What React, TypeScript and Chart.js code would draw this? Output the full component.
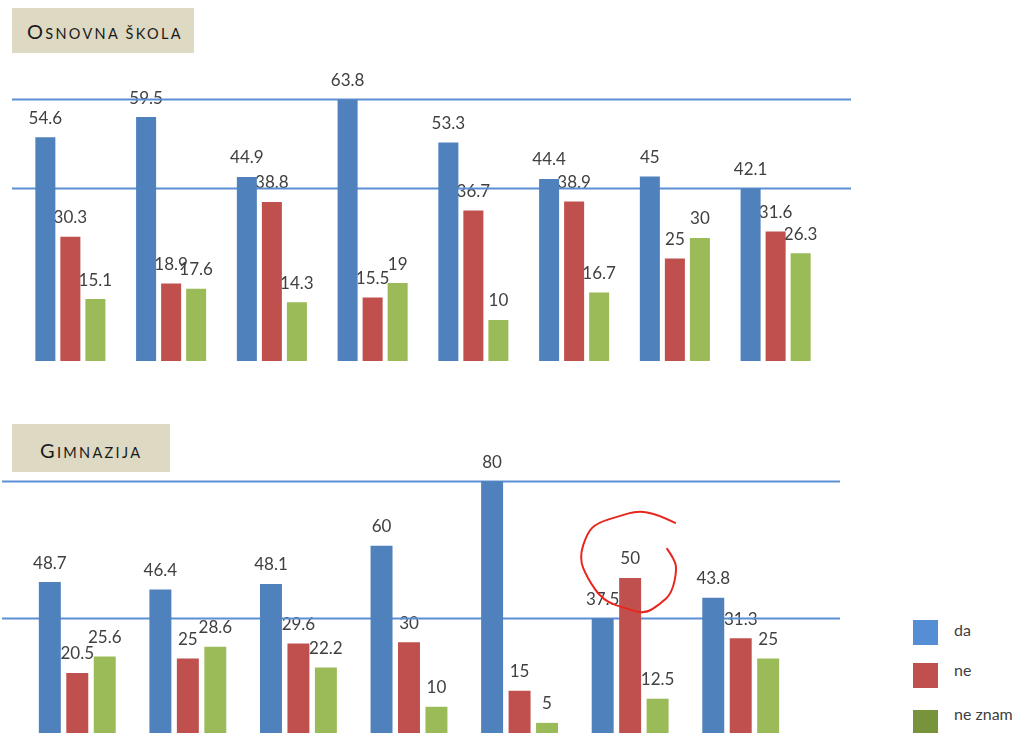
import React, { useEffect, useRef } from "react";
import { Chart, registerables } from "chart.js";

Chart.register(...registerables);

// ---------- data ----------
const seriesNames = ["da", "ne", "ne znam"];

const osnovnaCategories = ["1", "2", "3", "4", "5", "6", "7", "8"];
const osnovnaDa = [54.6, 59.5, 44.9, 63.8, 53.3, 44.4, 45, 42.1];
const osnovnaNe = [30.3, 18.9, 38.8, 15.5, 36.7, 38.9, 25, 31.6];
const osnovnaNeZnam = [15.1, 17.6, 14.3, 19, 10, 16.7, 30, 26.3];
const osnovnaRefLines = [63.8, 42.1];

const gimnazijaCategories = ["1", "2", "3", "4", "5", "6", "7"];
const gimnazijaDa = [48.7, 46.4, 48.1, 60, 80, 37.5, 43.8];
const gimnazijaNe = [20.5, 25, 29.6, 30, 15, 50, 31.3];
const gimnazijaNeZnam = [25.6, 28.6, 22.2, 10, 5, 12.5, 25];
const gimnazijaRefLines = [80, 37.5];

// highlighted bar (hand-drawn circle): series "ne", category 6
const highlightSeries = 1;
const highlightIndex = 5;

// ---------- styles ----------
const barColors = ["#4F81BD", "#C0504D", "#9BBB59"];
const legendColors = ["#558ED5", "#C0504D", "#77933C"];
const labelColor = "#404040";
const refLineColor = "#5B8FD3";

// rough hand-drawn loop, relative to the highlighted bar's top centre
const circleOutline: [number, number][] = [
  [45, -55], [27, -64], [7, -67], [-10, -62], [-33, -55], [-43, -45],
  [-51, -20], [-43, 0], [-27, 23], [-3, 31], [15, 36], [30, 26],
  [42, 15], [47, -10], [43, -20], [37, -29],
];

const overlayPlugin = {
  id: "overlay",
  beforeDatasetsDraw(chart: any, _args: any, opts: any) {
    const ctx = chart.ctx;
    ctx.save();
    ctx.font = "17px Lato";
    ctx.fillStyle = labelColor;
    ctx.textAlign = "center";
    ctx.textBaseline = "middle";
    chart.data.datasets.forEach((ds: any, di: number) => {
      const meta = chart.getDatasetMeta(di);
      meta.data.forEach((bar: any, i: number) => {
        ctx.fillText(String(ds.data[i]), bar.x, bar.y - 19);
      });
    });
    const yScale = chart.scales.y;
    ctx.strokeStyle = refLineColor;
    ctx.lineWidth = 2;
    (opts.lines || []).forEach((v: number) => {
      const py = Math.round(yScale.getPixelForValue(v)) + 0.5;
      ctx.beginPath();
      ctx.moveTo(opts.x0, py);
      ctx.lineTo(opts.x1, py);
      ctx.stroke();
    });
    ctx.restore();
  },
  afterDatasetsDraw(chart: any, _args: any, opts: any) {
    if (!opts.highlight) return;
    const meta = chart.getDatasetMeta(opts.highlight.dataset);
    const bar = meta.data[opts.highlight.index];
    if (!bar) return;
    const ctx = chart.ctx;
    const pts = circleOutline.map(([dx, dy]) => [bar.x + dx, bar.y + dy]);
    ctx.save();
    ctx.strokeStyle = "#E8261E";
    ctx.lineWidth = 2;
    ctx.lineCap = "round";
    ctx.lineJoin = "round";
    ctx.beginPath();
    ctx.moveTo(pts[0][0], pts[0][1]);
    for (let i = 1; i < pts.length - 1; i++) {
      const mx = (pts[i][0] + pts[i + 1][0]) / 2;
      const my = (pts[i][1] + pts[i + 1][1]) / 2;
      ctx.quadraticCurveTo(pts[i][0], pts[i][1], mx, my);
    }
    const last = pts[pts.length - 1];
    ctx.lineTo(last[0], last[1]);
    ctx.stroke();
    ctx.restore();
  },
};

function BarPanel(props: {
  categories: string[];
  series: number[][];
  refLines: number[];
  yMax: number;
  padding: { left: number; right: number; top: number; bottom: number };
  lineX: [number, number];
  highlight?: { dataset: number; index: number };
  style: React.CSSProperties;
}) {
  const ref = useRef<HTMLCanvasElement | null>(null);
  useEffect(() => {
    if (!ref.current) return;
    const chart = new Chart(ref.current, {
      type: "bar",
      data: {
        labels: props.categories,
        datasets: props.series.map((d, i) => ({
          label: seriesNames[i],
          data: d,
          backgroundColor: barColors[i],
          borderWidth: 0,
          categoryPercentage: 0.745,
          barPercentage: 0.8,
        })),
      },
      options: {
        animation: false,
        responsive: true,
        maintainAspectRatio: false,
        layout: { padding: props.padding },
        scales: {
          x: { display: false, grid: { display: false } },
          y: { display: false, min: 0, max: props.yMax, grid: { display: false } },
        },
        plugins: {
          legend: { display: false },
          tooltip: { enabled: false },
          overlay: {
            lines: props.refLines,
            x0: props.lineX[0],
            x1: props.lineX[1],
            highlight: props.highlight,
          },
        } as any,
      },
      plugins: [overlayPlugin],
    });
    return () => chart.destroy();
  }, []);
  return (
    <div style={{ position: "absolute", ...props.style }}>
      <canvas ref={ref} />
    </div>
  );
}

const titleBox: React.CSSProperties = {
  position: "absolute",
  background: "#DDD9C3",
  fontFamily: "Lato, sans-serif",
  color: "#1A1A1A",
  whiteSpace: "nowrap",
};

function SmallCapsTitle(props: { text: string; left: number; top: number }) {
  const first = props.text.charAt(0).toUpperCase();
  const rest = props.text.slice(1).toUpperCase();
  return (
    <span
      style={{
        position: "absolute",
        left: props.left,
        top: props.top,
        fontSize: 20,
        lineHeight: "24px",
        letterSpacing: "2.3px",
      }}
    >
      {first}
      <span style={{ fontSize: 14.5 }}>{rest}</span>
    </span>
  );
}

const legendText: React.CSSProperties = {
  position: "absolute",
  left: 954,
  fontFamily: "Lato, sans-serif",
  fontSize: 16,
  lineHeight: "20px",
  color: labelColor,
  whiteSpace: "nowrap",
};

export default function App() {
  const legendTops = [620, 663, 710];
  const legendTextTops = [620, 660, 704];
  return (
    <div
      style={{
        position: "fixed",
        left: 0,
        top: 0,
        width: 1013,
        height: 733,
        overflow: "hidden",
        background: "#FFFFFF",
      }}
    >
      <div style={{ ...titleBox, left: 12, top: 8, width: 182, height: 45 }}>
        <SmallCapsTitle text="Osnovna škola" left={15} top={11} />
      </div>
      <BarPanel
        categories={osnovnaCategories}
        series={[osnovnaDa, osnovnaNe, osnovnaNeZnam]}
        refLines={osnovnaRefLines}
        yMax={70}
        padding={{ left: 20, right: 34, top: 14, bottom: 9 }}
        lineX={[12, 851]}
        style={{ left: 0, top: 60, width: 860, height: 310 }}
      />

      <div style={{ ...titleBox, left: 12, top: 424, width: 158, height: 48 }}>
        <SmallCapsTitle text="Gimnazija" left={28} top={14} />
      </div>
      <BarPanel
        categories={gimnazijaCategories}
        series={[gimnazijaDa, gimnazijaNe, gimnazijaNeZnam]}
        refLines={gimnazijaRefLines}
        yMax={90}
        padding={{ left: 22, right: 54, top: 9, bottom: 11 }}
        lineX={[2, 840]}
        highlight={{ dataset: highlightSeries, index: highlightIndex }}
        style={{ left: 0, top: 440, width: 850, height: 310 }}
      />

      {seriesNames.map((name, i) => (
        <React.Fragment key={name}>
          <div
            style={{
              position: "absolute",
              left: 913,
              top: legendTops[i],
              width: 25,
              height: 25,
              background: legendColors[i],
            }}
          />
          <div style={{ ...legendText, top: legendTextTops[i] }}>{name}</div>
        </React.Fragment>
      ))}
    </div>
  );
}
